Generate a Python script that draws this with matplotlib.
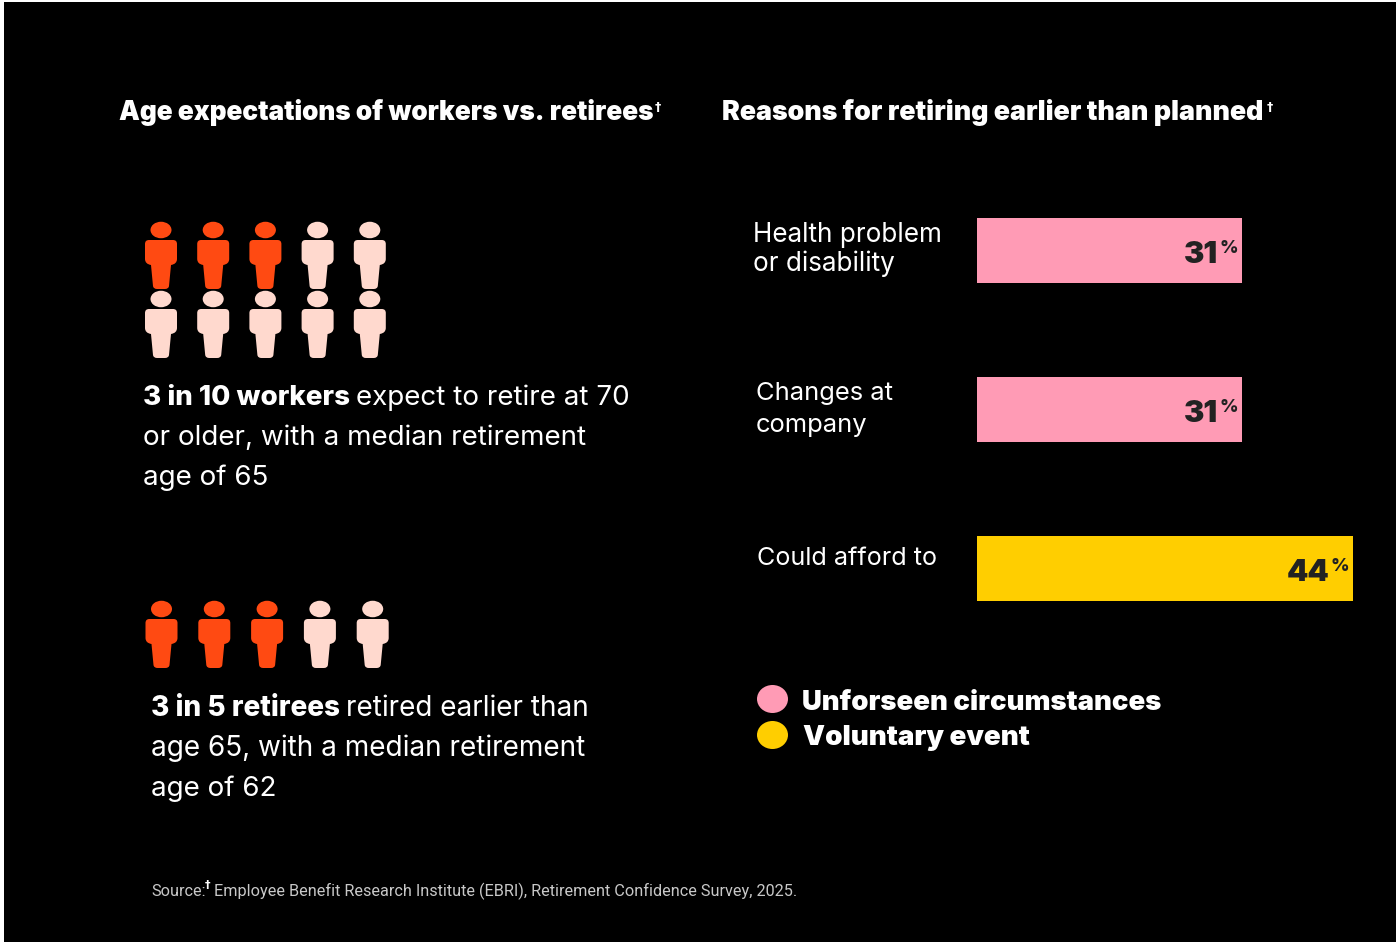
import matplotlib
matplotlib.use('Agg')
import matplotlib.pyplot as plt
from matplotlib.patches import Ellipse, PathPatch, Rectangle
from matplotlib.path import Path

# Chart data
workerCount = 10
workerHighlighted = 3
retireeCount = 5
retireeHighlighted = 3
reasons = [['Health problem', 'or disability'], ['Changes at', 'company'], ['Could afford to']]
reasonValues = [31, 31, 44]
reasonGroups = ['Unforseen circumstances', 'Unforseen circumstances', 'Voluntary event']

# Colors
orange = '#FF4A12'
peach = '#FFD9CE'
pink = '#FF9BB5'
yellow = '#FFCE00'
dark = '#222222'
grey = '#C8C8C8'
groupColors = {'Unforseen circumstances': pink, 'Voluntary event': yellow}

W, H = 1398, 945
plt.rcParams['font.family'] = ['Inter', 'DejaVu Sans']

fig = plt.figure(figsize=(W / 100, H / 100), dpi=100, facecolor='white')
page = fig.add_axes([0, 0, 1, 1])
page.set_xlim(0, W)
page.set_ylim(H, 0)
page.axis('off')
page.add_patch(Rectangle((4, 3), W - 6, H - 5, color='black', lw=0))


def person(x, top, color):
    # Head plus a body outline, x is the centre line and top the head's top edge
    page.add_patch(Ellipse((x, top + 8), 21, 16.5, color=color, lw=0))
    MOVE, LINE, CURVE = Path.MOVETO, Path.LINETO, Path.CURVE3
    verts = [(x - 12, top + 18), (x + 12, top + 18), (x + 16, top + 18), (x + 16, top + 22),
             (x + 16, top + 37), (x + 16, top + 42), (x + 10, top + 43),
             (x + 8, top + 64), (x + 7.5, top + 67), (x + 4, top + 67),
             (x - 4, top + 67), (x - 7.5, top + 67), (x - 8, top + 64),
             (x - 10, top + 43), (x - 16, top + 42), (x - 16, top + 37),
             (x - 16, top + 22), (x - 16, top + 18), (x - 12, top + 18), (x - 12, top + 18)]
    codes = [MOVE, LINE, CURVE, CURVE, LINE, CURVE, CURVE, LINE, CURVE, CURVE, LINE,
             CURVE, CURVE, LINE, CURVE, CURVE, LINE, CURVE, CURVE, Path.CLOSEPOLY]
    page.add_patch(PathPatch(Path(verts, codes), facecolor=color, lw=0))


def people(total, highlighted, x0, y0, dx, dy, perRow=5):
    for i in range(total):
        color = orange if i < highlighted else peach
        person(x0 + dx * (i % perRow), y0 + dy * (i // perRow), color)


def mixed_line(x, y, boldPart, rest, size=20):
    # Bold lead-in followed by regular text on the same baseline
    b = page.text(x, y, boldPart, color='white', fontsize=size, fontweight=800, va='baseline')
    end = page.transData.inverted().transform(
        (b.get_window_extent(fig.canvas.get_renderer()).x1, 0))[0]
    page.text(end + 6, y, rest, color='white', fontsize=size, va='baseline')


# Headings
page.text(119, 120, 'Age expectations of workers vs. retirees', color='white', fontsize=18.9,
          fontweight='black', va='baseline')
page.text(655, 111, '\u2020', color='white', fontsize=9, fontweight='bold', va='baseline',
          family='DejaVu Sans')
page.text(722, 120, 'Reasons for retiring earlier than planned', color='white', fontsize=19.25,
          fontweight='black', va='baseline')
page.text(1267, 111, '\u2020', color='white', fontsize=9, fontweight='bold', va='baseline',
          family='DejaVu Sans')

# Left column: pictograms and their captions
people(workerCount, workerHighlighted, 161, 223, 52.2, 69)
mixed_line(143, 405, '3 in 10 workers', 'expect to retire at 70')
page.text(143, 445, 'or older, with a median retirement', color='white', fontsize=20, va='baseline')
page.text(143, 485, 'age of 65', color='white', fontsize=20, va='baseline')

people(retireeCount, retireeHighlighted, 161.5, 602, 52.8, 69)
mixed_line(151, 716, '3 in 5 retirees', 'retired earlier than', size=20.1)
page.text(151, 756, 'age 65, with a median retirement', color='white', fontsize=20.15, va='baseline')
page.text(151, 796, 'age of 62', color='white', fontsize=20, va='baseline')

# Right column: bar chart
barAxis = fig.add_axes([977 / W, 1 - 602 / H, 376 / W, (602 - 219) / H])
barAxis.set_xlim(0, max(reasonValues))
barAxis.set_ylim(2.2045, -0.2045)
barAxis.axis('off')
barAxis.patch.set_alpha(0)
positions = list(range(len(reasonValues)))
barAxis.barh(positions, reasonValues, height=0.409,
             color=[groupColors[g] for g in reasonGroups], linewidth=0)
for pos, val in zip(positions, reasonValues):
    barAxis.annotate(str(val), (val, pos), xytext=(-17, -2.5), textcoords='offset points',
                     color=dark, fontsize=22, fontweight='black', ha='right', va='center')
    barAxis.annotate('%', (val, pos), xytext=(-3, 2.5), textcoords='offset points',
                     color=dark, fontsize=13, fontweight=800, ha='right', va='center')

# Category labels, one baseline per line
labelX = [753, 756, 757]
labelBaselines = [[242, 271], [400, 432], [565]]
labelSizes = [18.8, 18.4, 18.1]
for lines, x, baselines, size in zip(reasons, labelX, labelBaselines, labelSizes):
    for line, y in zip(lines, baselines):
        page.text(x, y, line, color='white', fontsize=size, va='baseline')

# Legend
for name, y in zip(['Unforseen circumstances', 'Voluntary event'], [700, 736]):
    page.add_patch(Ellipse((772.5, y), 31, 28, color=groupColors[name], lw=0))
page.text(802, 710, 'Unforseen circumstances', color='white', fontsize=19.8, fontweight='black', va='baseline')
page.text(803, 745, 'Voluntary event', color='white', fontsize=20, fontweight='black', va='baseline')

# Source line
page.text(151, 896, 'Source:', color=grey, fontsize=11.7, family='Roboto', va='baseline')
page.text(205, 888, '\u2020', color='white', fontsize=8, fontweight='bold', va='baseline',
          family='DejaVu Sans')
page.text(214, 896, 'Employee Benefit Research Institute (EBRI), Retirement Confidence Survey, 2025.',
          color=grey, fontsize=11.7, family='Roboto', va='baseline')

fig.savefig('out.png', dpi=100, facecolor='white')
